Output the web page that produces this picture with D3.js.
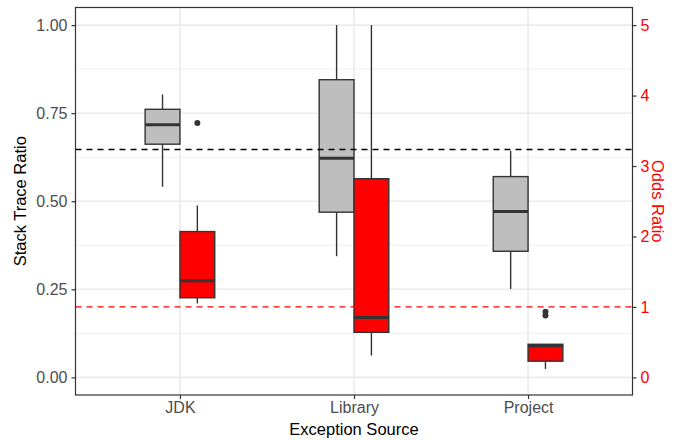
<!DOCTYPE html>
<html>
<head>
<meta charset="utf-8">
<script src="https://cdn.jsdelivr.net/npm/d3@7"></script>
<style>
  body { margin: 0; background: #fff; }
  svg text { font-family: "Liberation Sans", Arial, Helvetica, sans-serif; }
</style>
</head>
<body>
<svg id="chart" width="678" height="440"></svg>
<script>
// Exception sources on the x axis
const categories = ["JDK", "Library", "Project"];

// Stack trace ratio per source: [lower whisker, Q1, median, Q3, upper whisker]
const ratioStats = [
  [0.541, 0.662, 0.717, 0.761, 0.803],
  [0.344, 0.469, 0.622, 0.845, 1.000],
  [0.251, 0.358, 0.471, 0.570, 0.643]
];
const ratioOutliers = [[], [], []];

// Odds ratio per source: [lower whisker, Q1, median, Q3, upper whisker]
const oddsStats = [
  [1.05, 1.13, 1.37, 2.07, 2.44],
  [0.31, 0.64, 0.85, 2.82, 5.00],
  [0.12, 0.23, 0.45, 0.47, 0.47]
];
const oddsOutliers = [[3.61], [], [0.93, 0.88]];

// Reference levels drawn as dashed lines
const ratioReference = 0.647;
const oddsReference = 1.0;

const ratioTicks = [0, 0.25, 0.5, 0.75, 1.0];
const ratioMinorTicks = [0.125, 0.375, 0.625, 0.875];
const oddsTicks = [0, 1, 2, 3, 4, 5];

const W = 678, H = 440;
const margin = { top: 7.5, right: 45.5, bottom: 45, left: 75.5 };
const iw = W - margin.left - margin.right;
const ih = H - margin.top - margin.bottom;

const svg = d3.select("#chart");
const g = svg.append("g").attr("transform", `translate(${margin.left},${margin.top})`);

// Discrete x with ggplot-like 0.6 expansion on each side
const x = d3.scalePoint().domain(categories).range([0, iw]).padding(0.6);
const y = d3.scaleLinear().domain([-0.05, 1.05]).range([ih, 0]);
const y2 = d3.scaleLinear().domain([-0.25, 5.25]).range([ih, 0]);

const step = x.step();
const boxW = step * 0.2;           // each of the two dodged boxes
const dodge = d3.scaleBand().domain(["ratio", "odds"]).range([-boxW, boxW]);

// Gridlines
g.append("g").selectAll("line").data(ratioMinorTicks).join("line")
  .attr("x1", 0).attr("x2", iw)
  .attr("y1", d => y(d)).attr("y2", d => y(d))
  .attr("stroke", "#EBEBEB").attr("stroke-width", 0.8);
g.append("g").selectAll("line").data(ratioTicks).join("line")
  .attr("x1", 0).attr("x2", iw)
  .attr("y1", d => y(d)).attr("y2", d => y(d))
  .attr("stroke", "#EBEBEB").attr("stroke-width", 1.6);
g.append("g").selectAll("line").data(categories).join("line")
  .attr("x1", d => x(d)).attr("x2", d => x(d))
  .attr("y1", 0).attr("y2", ih)
  .attr("stroke", "#EBEBEB").attr("stroke-width", 1.6);

// Boxplot drawer
function drawBoxes(stats, outliers, yScale, key, fill) {
  const grp = g.append("g");
  stats.forEach((s, i) => {
    const cx = x(categories[i]) + dodge(key) + dodge.bandwidth() / 2;
    const x0 = x(categories[i]) + dodge(key);
    const [lo, q1, med, q3, hi] = s;
    // whiskers
    grp.append("line").attr("x1", cx).attr("x2", cx)
      .attr("y1", yScale(hi)).attr("y2", yScale(q3))
      .attr("stroke", "#333333").attr("stroke-width", 1.4);
    grp.append("line").attr("x1", cx).attr("x2", cx)
      .attr("y1", yScale(q1)).attr("y2", yScale(lo))
      .attr("stroke", "#333333").attr("stroke-width", 1.4);
    // box
    grp.append("rect")
      .attr("x", x0).attr("width", dodge.bandwidth())
      .attr("y", yScale(q3)).attr("height", yScale(q1) - yScale(q3))
      .attr("fill", fill).attr("stroke", "#333333").attr("stroke-width", 1.4);
    // median
    grp.append("line").attr("x1", x0).attr("x2", x0 + dodge.bandwidth())
      .attr("y1", yScale(med)).attr("y2", yScale(med))
      .attr("stroke", "#333333").attr("stroke-width", 3);
    // outliers
    outliers[i].forEach(v => {
      grp.append("circle").attr("cx", cx).attr("cy", yScale(v)).attr("r", 3)
        .attr("fill", "#333333");
    });
  });
}

drawBoxes(ratioStats, ratioOutliers, y, "ratio", "#BEBEBE");
drawBoxes(oddsStats, oddsOutliers, y2, "odds", "#FF0000");

// Reference lines
g.append("line").attr("x1", 0).attr("x2", iw)
  .attr("y1", y(ratioReference)).attr("y2", y(ratioReference))
  .attr("stroke", "#000").attr("stroke-width", 1.4).attr("stroke-dasharray", "6,5");
g.append("line").attr("x1", 0).attr("x2", iw)
  .attr("y1", y2(oddsReference)).attr("y2", y2(oddsReference))
  .attr("stroke", "#FF0000").attr("stroke-width", 1.2).attr("stroke-dasharray", "6,5");

// Panel border
g.append("rect").attr("x", 0).attr("y", 0).attr("width", iw).attr("height", ih)
  .attr("fill", "none").attr("stroke", "#333333").attr("stroke-width", 1.2);

// Axes
function styleAxis(sel, color) {
  sel.select(".domain").remove();
  sel.selectAll(".tick line").attr("stroke", "#333333").attr("stroke-width", 1.2);
  sel.selectAll(".tick text").attr("fill", color).attr("font-size", "16px");
}

g.append("g")
  .call(d3.axisLeft(y).tickValues(ratioTicks).tickFormat(d3.format(".2f")).tickSize(4).tickPadding(4))
  .call(s => styleAxis(s, "#4D4D4D"));

g.append("g").attr("transform", `translate(${iw},0)`)
  .call(d3.axisRight(y2).tickValues(oddsTicks).tickFormat(d3.format("d")).tickSize(4).tickPadding(4))
  .call(s => styleAxis(s, "#FF0000"));

g.append("g").attr("transform", `translate(0,${ih})`)
  .call(d3.axisBottom(x).tickSize(4).tickPadding(3))
  .call(s => styleAxis(s, "#4D4D4D"));

// Axis titles
svg.append("text")
  .attr("transform", `translate(20,${margin.top + ih / 2}) rotate(-90)`)
  .attr("text-anchor", "middle").attr("dy", "0.35em")
  .attr("font-size", "16.5px").attr("fill", "#000")
  .text("Stack Trace Ratio");

svg.append("text")
  .attr("transform", `translate(658,${margin.top + ih / 2}) rotate(90)`)
  .attr("text-anchor", "middle").attr("dy", "0.35em")
  .attr("font-size", "16.5px").attr("fill", "#FF0000")
  .text("Odds Ratio");

svg.append("text")
  .attr("x", margin.left + iw / 2).attr("y", 435)
  .attr("text-anchor", "middle")
  .attr("font-size", "16.5px").attr("fill", "#000")
  .text("Exception Source");
</script>
</body>
</html>
